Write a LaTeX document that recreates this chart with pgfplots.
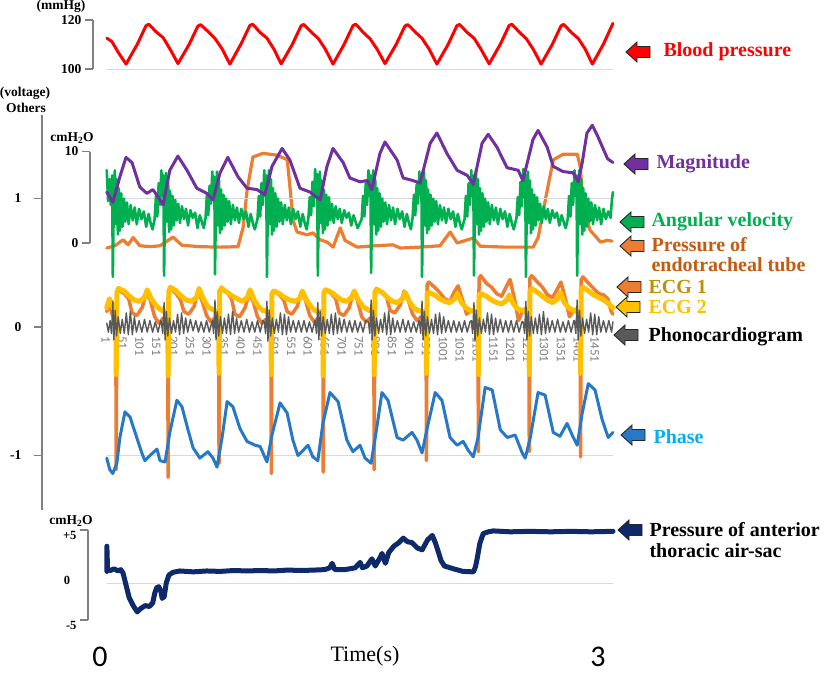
\documentclass[border=0pt]{standalone}
\usepackage{pgfplots}
\pgfplotsset{compat=1.18}
\usepackage{fontspec}
\setmainfont{Liberation Serif}
\newfontfamily\calibri{Carlito}

\definecolor{bpred}{HTML}{FF0000}
\definecolor{magp}{HTML}{7030A0}
\definecolor{angg}{HTML}{00B050}
\definecolor{etor}{HTML}{ED7D31}
\definecolor{etotxt}{HTML}{C55A11}
\definecolor{ecgonetxt}{HTML}{BF9000}
\definecolor{ecgtwo}{HTML}{FFC000}
\definecolor{phono}{HTML}{595959}
\definecolor{phaseb}{HTML}{2878C8}
\definecolor{phasetxt}{HTML}{00B0F0}
\definecolor{sacnavy}{HTML}{0E2A6B}
\definecolor{axgray}{HTML}{808080}
\definecolor{gridc}{HTML}{D9D9D9}
\definecolor{tickgray}{HTML}{7F7F7F}

\newcommand{\lab}{\fontsize{20}{22}\selectfont\bfseries}
\newcommand{\tlab}{\fontsize{13.5}{15}\selectfont\bfseries}
% block arrow pointing left: colour, x, y (pt)
\newcommand{\larr}[3]{\draw[draw=black!85, line width=0.9pt, fill=#1, shift={(#2pt,#3pt)}]
  (-12pt,0pt) -- (-1pt,10pt) -- (-1pt,5.5pt) -- (12pt,5.5pt) -- (12pt,-5.5pt)
  -- (-1pt,-5.5pt) -- (-1pt,-10pt) -- cycle;}

\pgfplotsset{
  panel/.style={scale only axis, clip=false, anchor=south west,
    axis x line=none, axis y line*=left,
    y axis line style={-, draw=axgray, line width=1.2pt},
    ytick style={draw=axgray, line width=1.2pt},
    tick align=outside, major tick length=8pt,
    yticklabel style={font=\tlab, text=black},
    every axis plot/.append style={no markers, line join=round, line cap=round}},
}

\begin{document}
\begin{tikzpicture}
\useasboundingbox (0pt,0pt) rectangle (827pt,-673pt);

% blood pressure
\begin{axis}[panel, at={(93pt,-69pt)}, width=521.6pt, height=49pt,
  xmin=-37, xmax=1510, ymin=100, ymax=120,
  ytick={100,120}, yticklabels={100,120}]
\addplot[gridc, line width=1pt] coordinates {(4,100)(1505,100)};
\addplot[bpred, line width=3pt] coordinates {
(4,112.6)(19,111.2)(37,107)(61,102)(94,110)(120,117.6)(128,118.3)(136,117.2)(150,115.2)(171,112.8)(192,108)
(215,102.2)(248,110)(274,117.5)(282,118.1)(290,117.1)(304,115.3)(325,112.4)(346,108.2)
(369,102)(402,110.2)(428,117.7)(436,118.3)(444,117.2)(458,115)(479,112.6)(500,108)
(521,102.1)(554,110)(580,117.6)(588,118.2)(596,117.1)(610,115.1)(631,112.5)(652,108.1)
(675,102)(708,110.1)(734,117.7)(742,118.3)(750,117.2)(764,115)(785,112.3)(806,108)
(829,102.2)(862,110)(888,117.5)(896,118.1)(904,117.2)(918,115.2)(939,112.5)(960,108.1)
(983,102)(1016,110)(1042,117.6)(1050,118.2)(1058,117.1)(1072,115)(1093,112.6)(1114,108)
(1138,102.1)(1171,110.1)(1197,117.7)(1205,118.3)(1213,117.2)(1227,115.1)(1248,112.4)(1269,108)
(1292,102)(1325,110)(1351,117.6)(1359,118.2)(1367,117.1)(1381,115)(1402,112.5)(1423,108.1)
(1444,102)(1477,110.2)(1505,118.6)};
\end{axis}

% pressure of endotracheal tube (cmH2O)
\begin{axis}[panel, at={(90pt,-243pt)}, width=524.7pt, height=91.5pt,
  xmin=-46, xmax=1510, ymin=0, ymax=10,
  ytick={0,10}, yticklabels={0,10}]
\addplot[etor, line width=3.2pt] coordinates {
(4,-0.55)(28,-0.3)(52,0.35)(67,-0.2)(82,0.6)(102,-0.3)(132,-0.4)(162,-0.3)(200,0.65)
(227,-0.25)(280,-0.4)(340,-0.45)(393,-0.4)(408,1.7)(420,5.8)(437,9.4)(467,9.8)(509,9.6)
(539,9.1)(547,6.1)(556,2.5)(568,1.2)(598,0.9)(615,1.1)(637,0.35)(657,0.1)(675,-0.45)
(696,1.65)(710,0.3)(746,-0.45)(799,-0.3)(853,-0.2)(874,-0.55)(933,-0.45)(992,-0.3)
(1022,1.2)(1043,0)(1091,0.55)(1111,-0.35)(1185,-0.45)(1268,-0.45)(1283,0.6)(1310,5.8)
(1328,9.1)(1357,9.7)(1399,9.7)(1408,8.3)(1417,3.9)(1437,1.4)(1468,0.1)(1489,0.3)(1502,0.2)};
\end{axis}

% others (voltage)
\begin{axis}[panel, at={(42pt,-510pt)}, width=572.6pt, height=395pt,
  xmin=-188, xmax=1510, ymin=-1.424, ymax=1.65,
  ytick={-1,0,1}, yticklabels={-1,0,1}, yticklabel style={xshift=-9pt}]
\addplot[gridc, line width=1pt] coordinates {(4,1)(1505,1)};
\addplot[gridc, line width=1pt] coordinates {(4,0)(1505,0)};
\addplot[gridc, line width=1pt] coordinates {(4,-1)(1505,-1)};
% sample index labels along the zero line
\pgfplotsinvokeforeach{1,51,101,151,201,251,301,351,401,451,501,551,601,651,701,751,801,851,901,951,1001,1051,1101,1151,1201,1251,1301,1351,1401,1451}{
  \node[rotate=-90, anchor=west, inner sep=0pt, text=tickgray,
    font=\calibri\fontsize{13}{13}\selectfont] at (axis cs:#1,-0.07) {#1};
}
% ECG 1
\addplot[etor, line width=3.5pt] coordinates {
(4,0.12)(12,0.18)(20,0.10)(28,0.06)
(31,0.06)(32,-1.11)(34,0.26)(39,0.29)(56,0.26)(69,0.22)(79,0.11)(93,0.09)(109,0.15)(121,0.27)(133,0.21)(146,0.08)(159,0.03)(171,0.07)(181,0.05)
(185,0.06)(186,-1.17)(188,0.27)(193,0.30)(210,0.26)(223,0.21)(233,0.12)(247,0.10)(263,0.16)(275,0.28)(287,0.20)(300,0.09)(313,0.04)(325,0.07)(332,0.05)
(336,0.06)(337,-1.06)(339,0.28)(344,0.31)(361,0.27)(374,0.22)(384,0.10)(398,0.08)(414,0.15)(426,0.26)(438,0.20)(451,0.08)(464,0.03)(476,0.06)(487,0.05)
(491,0.06)(492,-1.14)(494,0.26)(499,0.28)(516,0.25)(529,0.21)(539,0.12)(553,0.10)(569,0.16)(581,0.27)(593,0.21)(606,0.09)(619,0.04)(631,0.07)(641,0.05)
(645,0.06)(646,-1.13)(648,0.27)(653,0.29)(670,0.26)(683,0.22)(693,0.11)(707,0.09)(723,0.15)(735,0.27)(747,0.21)(760,0.08)(773,0.04)(785,0.07)(792,0.06)
(796,0.07)(797,-1.11)(799,0.28)(804,0.30)(821,0.27)(834,0.23)(844,0.13)(858,0.11)(874,0.17)(886,0.28)(898,0.21)(911,0.10)(924,0.05)(936,0.08)(947,0.08)
(951,0.10)(952,-1.04)(954,0.33)(959,0.35)(976,0.31)(991,0.27)(1006,0.22)(1021,0.20)(1036,0.28)(1046,0.32)(1059,0.21)(1071,0.10)(1086,0.13)(1101,0.12)
(1105,0.12)(1106,-0.97)(1108,0.38)(1113,0.40)(1130,0.34)(1145,0.31)(1160,0.26)(1175,0.24)(1190,0.32)(1200,0.37)(1213,0.22)(1225,0.05)(1240,0.14)(1252,0.13)
(1256,0.13)(1257,-0.97)(1259,0.38)(1264,0.40)(1281,0.35)(1296,0.31)(1311,0.25)(1326,0.23)(1341,0.30)(1351,0.35)(1364,0.22)(1376,0.08)(1391,0.14)(1404,0.12)
(1408,0.12)(1409,-1.01)(1411,0.37)(1416,0.39)(1433,0.34)(1448,0.30)(1463,0.26)(1478,0.25)(1490,0.22)(1500,0.12)(1505,0.10)};
% ECG 2
\addplot[ecgtwo, line width=5pt] coordinates {
(4,0.15)(12,0.22)(20,0.17)(28,0.12)
(31,0.12)(32,-0.37)(34,0.27)(39,0.30)(56,0.28)(71,0.24)(86,0.21)(101,0.20)(116,0.23)(124,0.29)(136,0.22)(149,0.17)(161,0.14)(176,0.12)
(185,0.12)(186,-0.38)(188,0.28)(193,0.31)(210,0.28)(225,0.24)(240,0.21)(255,0.20)(270,0.23)(278,0.30)(290,0.22)(303,0.16)(315,0.14)(330,0.12)
(336,0.12)(337,-0.36)(339,0.28)(344,0.30)(361,0.27)(376,0.24)(391,0.22)(406,0.20)(421,0.23)(429,0.29)(441,0.21)(454,0.16)(466,0.13)(481,0.12)
(491,0.12)(492,-0.37)(494,0.26)(499,0.28)(516,0.26)(531,0.23)(546,0.21)(561,0.20)(576,0.22)(584,0.28)(596,0.21)(609,0.16)(621,0.13)(636,0.12)
(645,0.12)(646,-0.38)(648,0.27)(653,0.29)(670,0.27)(685,0.24)(700,0.21)(715,0.20)(730,0.23)(738,0.28)(750,0.21)(763,0.16)(775,0.14)(790,0.12)
(796,0.12)(797,-0.37)(799,0.27)(804,0.29)(821,0.27)(836,0.23)(851,0.20)(866,0.19)(881,0.22)(889,0.27)(901,0.20)(914,0.15)(926,0.13)(941,0.12)
(951,0.12)(952,-0.36)(954,0.26)(959,0.27)(976,0.25)(991,0.22)(1006,0.20)(1021,0.19)(1036,0.22)(1044,0.26)(1056,0.19)(1069,0.15)(1081,0.13)(1096,0.12)
(1105,0.12)(1106,-0.37)(1108,0.25)(1113,0.26)(1130,0.24)(1145,0.21)(1160,0.19)(1175,0.18)(1190,0.21)(1198,0.25)(1210,0.18)(1223,0.14)(1235,0.13)(1250,0.12)
(1256,0.12)(1257,-0.37)(1259,0.28)(1264,0.30)(1281,0.27)(1296,0.24)(1311,0.21)(1326,0.19)(1341,0.22)(1349,0.27)(1361,0.19)(1374,0.15)(1386,0.13)(1401,0.12)
(1408,0.12)(1409,-0.36)(1411,0.29)(1416,0.31)(1433,0.28)(1448,0.25)(1463,0.23)(1478,0.21)(1493,0.18)(1505,0.15)};
% phonocardiogram
\addplot[phono, line width=1.4pt] coordinates {
(4,0.03)(9,-0.04)
(14,0.05)(18,-0.05)(22,0.20)(25,-0.10)(29,0.13)(33,-0.07)(38,0.08)(44,-0.05)(50,0.06)(56,-0.05)(62,0.11)(68,-0.06)(74,0.12)(80,-0.06)(86,0.08)(92,-0.04)(100,0.05)(108,-0.04)(116,0.06)(124,-0.04)(132,0.05)(140,-0.04)(148,0.04)(156,-0.04)(164,0.05)
(166,0.04)(170,-0.05)(174,0.19)(177,-0.10)(181,0.12)(185,-0.07)(190,0.07)(196,-0.05)(202,0.05)(208,-0.04)(214,0.10)(220,-0.06)(226,0.11)(232,-0.05)(238,0.07)(244,-0.04)(252,0.06)(260,-0.03)(268,0.05)(276,-0.04)(284,0.04)(292,-0.04)(300,0.05)(308,-0.04)(316,0.04)
(317,0.05)(321,-0.05)(325,0.21)(328,-0.10)(332,0.12)(336,-0.07)(341,0.08)(347,-0.05)(353,0.07)(359,-0.05)(365,0.10)(371,-0.06)(377,0.12)(383,-0.05)(389,0.07)(395,-0.04)(403,0.05)(411,-0.04)(419,0.06)(427,-0.04)(435,0.04)(443,-0.04)(451,0.05)(459,-0.04)(467,0.05)
(471,0.04)(475,-0.05)(479,0.20)(482,-0.11)(486,0.13)(490,-0.07)(495,0.07)(501,-0.05)(507,0.06)(513,-0.04)(519,0.11)(525,-0.06)(531,0.10)(537,-0.06)(543,0.08)(549,-0.04)(557,0.05)(565,-0.04)(573,0.05)(581,-0.04)(589,0.05)(597,-0.04)(605,0.04)(613,-0.04)(621,0.05)
(622,0.05)(626,-0.05)(630,0.19)(633,-0.10)(637,0.12)(641,-0.07)(646,0.08)(652,-0.05)(658,0.06)(664,-0.05)(670,0.10)(676,-0.06)(682,0.11)(688,-0.05)(694,0.07)(700,-0.04)(708,0.06)(716,-0.04)(724,0.05)(732,-0.04)(740,0.05)(748,-0.04)(756,0.04)(764,-0.04)(772,0.05)
(780,0.04)(784,-0.05)(788,0.21)(791,-0.10)(795,0.13)(799,-0.07)(804,0.07)(810,-0.05)(816,0.06)(822,-0.04)(828,0.11)(834,-0.06)(840,0.12)(846,-0.06)(852,0.07)(858,-0.04)(866,0.05)(874,-0.04)(882,0.06)(890,-0.04)(898,0.05)(906,-0.04)(914,0.04)(922,-0.04)(930,0.05)
(931,0.05)(935,-0.05)(939,0.20)(942,-0.10)(946,0.12)(950,-0.07)(955,0.08)(961,-0.05)(967,0.06)(973,-0.05)(979,0.10)(985,-0.06)(991,0.11)(997,-0.05)(1003,0.08)(1009,-0.04)(1017,0.05)(1025,-0.04)(1033,0.05)(1041,-0.04)(1049,0.04)(1057,-0.04)(1065,0.05)(1073,-0.04)(1081,0.04)
(1085,0.05)(1089,-0.05)(1093,0.19)(1096,-0.11)(1100,0.13)(1104,-0.07)(1109,0.07)(1115,-0.05)(1121,0.06)(1127,-0.04)(1133,0.11)(1139,-0.06)(1145,0.10)(1151,-0.06)(1157,0.07)(1163,-0.04)(1171,0.06)(1179,-0.04)(1187,0.05)(1195,-0.04)(1203,0.05)(1211,-0.04)(1219,0.05)(1227,-0.04)(1235,0.04)
(1239,0.04)(1243,-0.05)(1247,0.20)(1250,-0.10)(1254,0.12)(1258,-0.07)(1263,0.08)(1269,-0.05)(1275,0.07)(1281,-0.05)(1287,0.10)(1293,-0.06)(1299,0.12)(1305,-0.05)(1311,0.07)(1317,-0.04)(1325,0.05)(1333,-0.04)(1341,0.06)(1349,-0.04)(1357,0.04)(1365,-0.04)(1373,0.05)(1381,-0.04)(1389,0.05)
(1391,0.05)(1395,-0.05)(1399,0.21)(1402,-0.10)(1406,0.13)(1410,-0.07)(1415,0.07)(1421,-0.05)(1427,0.06)(1433,-0.04)(1439,0.11)(1445,-0.06)(1451,0.10)(1457,-0.06)(1463,0.08)(1469,-0.04)(1477,0.05)(1485,-0.04)(1493,0.05)(1501,-0.04)(1505,0.04)};
% phase
\addplot[phaseb, line width=3pt] coordinates {
(4,-1.02)(13,-1.11)(22,-1.14)(34,-1.06)(43,-0.86)(58,-0.66)(73,-0.70)(93,-0.86)(108,-0.98)(117,-1.04)(132,-1.00)(153,-0.95)(162,-1.04)(177,-1.05)
(191,-0.82)(212,-0.57)(227,-0.62)(245,-0.80)(260,-0.94)(280,-1.02)(304,-0.97)(319,-1.02)(331,-1.09)
(346,-0.86)(361,-0.58)(378,-0.62)(399,-0.79)(420,-0.89)(444,-0.92)(459,-0.93)(479,-1.05)
(494,-0.84)(518,-0.59)(539,-0.67)(556,-0.88)(571,-1.00)(601,-0.92)(615,-1.01)(630,-1.04)
(645,-0.75)(666,-0.51)(690,-0.58)(716,-0.88)(734,-0.97)(755,-0.92)(770,-1.02)(788,-1.06)
(805,-0.78)(820,-0.51)(838,-0.57)(865,-0.86)(883,-0.88)(909,-0.82)(924,-0.88)(939,-0.98)
(954,-0.79)(978,-0.51)(998,-0.57)(1022,-0.86)(1043,-0.92)(1061,-0.89)(1076,-0.96)(1091,-1.01)
(1105,-0.86)(1126,-0.47)(1147,-0.49)(1171,-0.80)(1192,-0.86)(1215,-0.84)(1236,-0.98)(1245,-1.02)
(1260,-0.86)(1283,-0.51)(1304,-0.53)(1328,-0.82)(1348,-0.85)(1369,-0.75)(1384,-0.84)(1399,-0.92)
(1414,-0.67)(1432,-0.44)(1452,-0.49)(1473,-0.72)(1491,-0.86)(1505,-0.82)};
% angular velocity
\addplot[angg, line width=2.6pt] coordinates {
(4,1.22)(8,0.98)(12,1.15)(16,0.95)(20,1.18)
(22,0.39)(25,1.00)(28,1.22)(31,0.80)(34,1.15)(37,0.72)(40,1.08)(43,0.75)(47,1.04)(51,0.78)(55,1.00)(59,0.82)(64,0.97)(69,0.80)(75,0.95)(81,0.83)(87,0.93)(93,0.80)(100,0.92)(107,0.84)(114,0.90)(121,0.78)(128,0.88)(135,0.80)(140,0.76)
(146,0.84)(150,1.02)(154,0.86)(158,1.12)(162,0.95)(166,1.22)(169,1.02)(172,1.18)(174,0.40)(177,1.02)(180,1.20)(183,0.82)(186,1.13)(189,0.74)(192,1.06)(195,0.76)(199,1.02)(203,0.79)(207,0.99)(211,0.83)(216,0.96)(221,0.81)(227,0.94)(233,0.84)(239,0.92)(245,0.79)(252,0.91)(259,0.85)(266,0.89)(273,0.77)(280,0.87)(287,0.81)(292,0.77)
(297,0.85)(301,1.03)(305,0.87)(309,1.10)(313,0.96)(317,1.21)(320,1.03)(323,1.17)(325,0.41)(328,0.99)(331,1.21)(334,0.79)(337,1.14)(340,0.73)(343,1.07)(346,0.76)(350,1.03)(354,0.79)(358,1.00)(362,0.82)(367,0.98)(372,0.80)(378,0.95)(384,0.83)(390,0.93)(396,0.81)(403,0.92)(410,0.84)(417,0.90)(424,0.78)(431,0.88)(438,0.80)(443,0.76)
(451,0.84)(455,1.02)(459,0.86)(463,1.12)(467,0.95)(471,1.22)(474,1.02)(477,1.18)(479,0.39)(482,1.00)(485,1.22)(488,0.80)(491,1.15)(494,0.72)(497,1.08)(500,0.75)(504,1.04)(508,0.78)(512,1.00)(516,0.82)(521,0.97)(526,0.80)(532,0.95)(538,0.83)(544,0.93)(550,0.80)(557,0.92)(564,0.84)(571,0.90)(578,0.78)(585,0.88)(592,0.80)(597,0.76)
(602,0.85)(606,1.01)(610,0.87)(614,1.13)(618,0.94)(622,1.23)(625,1.01)(628,1.19)(630,0.40)(633,1.01)(636,1.21)(639,0.81)(642,1.14)(645,0.73)(648,1.07)(651,0.76)(655,1.03)(659,0.79)(663,1.01)(667,0.83)(672,0.96)(677,0.81)(683,0.94)(689,0.84)(695,0.92)(701,0.81)(708,0.91)(715,0.85)(722,0.89)(729,0.79)(736,0.87)(743,0.81)(748,0.77)
(760,0.84)(764,1.02)(768,0.86)(772,1.12)(776,0.95)(780,1.22)(783,1.02)(786,1.18)(788,0.42)(791,1.00)(794,1.22)(797,0.80)(800,1.15)(803,0.72)(806,1.08)(809,0.75)(813,1.04)(817,0.78)(821,1.00)(825,0.82)(830,0.97)(835,0.80)(841,0.95)(847,0.83)(853,0.93)(859,0.80)(866,0.92)(873,0.84)(880,0.90)(887,0.78)(894,0.88)(901,0.80)(906,0.76)
(911,0.85)(915,1.03)(919,0.87)(923,1.11)(927,0.96)(931,1.21)(934,1.03)(937,1.17)(939,0.39)(942,0.99)(945,1.21)(948,0.79)(951,1.14)(954,0.73)(957,1.07)(960,0.76)(964,1.03)(968,0.79)(972,1.00)(976,0.82)(981,0.98)(986,0.80)(992,0.95)(998,0.83)(1004,0.93)(1010,0.81)(1017,0.92)(1024,0.84)(1031,0.90)(1038,0.78)(1045,0.88)(1052,0.80)(1057,0.76)
(1065,0.84)(1069,1.02)(1073,0.86)(1077,1.12)(1081,0.95)(1085,1.22)(1088,1.02)(1091,1.18)(1093,0.40)(1096,1.00)(1099,1.22)(1102,0.80)(1105,1.15)(1108,0.72)(1111,1.08)(1114,0.75)(1118,1.04)(1122,0.78)(1126,1.00)(1130,0.82)(1135,0.97)(1140,0.80)(1146,0.95)(1152,0.83)(1158,0.93)(1164,0.80)(1171,0.92)(1178,0.84)(1185,0.90)(1192,0.78)(1199,0.88)(1206,0.80)(1211,0.76)
(1219,0.85)(1223,1.01)(1227,0.87)(1231,1.13)(1235,0.94)(1239,1.23)(1242,1.01)(1245,1.19)(1247,0.39)(1250,1.01)(1253,1.21)(1256,0.81)(1259,1.14)(1262,0.73)(1265,1.07)(1268,0.76)(1272,1.03)(1276,0.79)(1280,1.01)(1284,0.83)(1289,0.96)(1294,0.81)(1300,0.94)(1306,0.84)(1312,0.92)(1318,0.81)(1325,0.91)(1332,0.85)(1339,0.89)(1346,0.79)(1353,0.87)(1360,0.81)(1365,0.77)
(1371,0.84)(1375,1.02)(1379,0.86)(1383,1.12)(1387,0.95)(1391,1.22)(1394,1.02)(1397,1.18)(1399,0.40)(1402,1.00)(1405,1.22)(1408,0.80)(1411,1.15)(1414,0.72)(1417,1.08)(1420,0.75)(1424,1.04)(1428,0.78)(1432,1.00)(1436,0.82)(1441,0.97)(1446,0.80)(1452,0.95)(1458,0.83)(1464,0.93)(1470,0.80)(1477,0.92)(1484,0.84)(1491,0.90)(1498,0.85)(1502,0.99)(1505,1.05)};
% magnitude
\addplot[magp, line width=3pt] coordinates {
(4,1.05)(22,0.97)(43,1.17)(61,1.32)(79,1.28)(102,1.09)(123,1.04)(141,1.07)(162,0.99)(171,0.95)
(191,1.22)(215,1.33)(242,1.22)(271,1.08)(301,1.04)(319,0.99)(340,1.20)(363,1.32)(393,1.17)
(420,1.08)(449,1.07)(473,1.03)(494,1.25)(524,1.39)(547,1.30)(577,1.08)(607,1.05)(637,0.99)
(657,1.25)(675,1.39)(705,1.28)(725,1.16)(755,1.13)(776,1.14)(790,1.07)(814,1.35)(829,1.44)
(865,1.30)(883,1.16)(912,1.14)(933,1.12)(963,1.43)(983,1.51)(1013,1.35)(1043,1.22)(1073,1.18)
(1091,1.11)(1117,1.43)(1135,1.50)(1161,1.40)(1191,1.24)(1224,1.22)(1238,1.14)(1268,1.46)
(1283,1.53)(1310,1.40)(1328,1.25)(1357,1.21)(1387,1.20)(1402,1.13)(1414,1.28)(1428,1.51)
(1444,1.57)(1459,1.49)(1489,1.31)(1505,1.28)};
\end{axis}

% pressure of anterior thoracic air-sac
\begin{axis}[panel, at={(88pt,-620pt)}, width=526.7pt, height=90pt,
  xmin=-52, xmax=1510, ymin=-5, ymax=5,
  ytick={-5,5}, yticklabels={-5,+5},
  yticklabel style={yshift=-5pt, font=\fontsize{12.5}{14}\selectfont\bfseries}]
\addplot[gridc, line width=1pt] coordinates {(4,-0.9)(1505,-0.9)};
\addplot[sacnavy, line width=5pt] coordinates {
(4,0.4)(4,3.2)(6,0.6)(15,0.5)(25,0.7)(37,0.45)(45,0.6)(52,0.2)(60,-1.0)(70,-2.5)(82,-3.4)
(94,-4.1)(105,-3.7)(118,-3.4)(130,-3.5)(140,-3.1)(146,-2.0)(152,-1.4)(158,-1.3)(164,-1.8)
(168,-2.6)(174,-2.4)(180,-0.9)(188,0.0)(200,0.3)(220,0.45)(260,0.35)(300,0.45)(340,0.4)
(380,0.5)(420,0.45)(460,0.5)(500,0.45)(540,0.55)(580,0.5)(620,0.55)(650,0.6)(665,0.8)
(672,1.3)(680,0.6)(710,0.6)(740,0.8)(755,1.4)(762,0.8)(775,1.0)(790,1.8)(800,1.0)(815,2.0)
(820,2.4)(830,1.3)(840,2.5)(855,3.2)(870,3.6)(883,4.1)(895,3.7)(909,3.6)(925,3.0)(939,2.8)
(955,3.9)(969,4.4)(978,3.6)(985,2.8)(995,1.6)(1005,1.0)(1031,0.7)(1060,0.4)(1091,0.35)
(1097,0.9)(1102,1.8)(1110,3.5)(1120,4.6)(1135,4.8)(1150,4.9)(1200,4.8)(1260,4.85)
(1320,4.8)(1380,4.85)(1440,4.8)(1505,4.85)};
\end{axis}

% unit labels
\node[font=\tlab] at (61pt,-6pt) {(mmHg)};
\node[font=\tlab] at (25pt,-93pt) {(voltage)};
\node[font=\tlab] at (26pt,-108pt) {Others};
\node[font=\tlab] at (72pt,-138pt) {cmH\textsubscript{2}O};
\node[font=\tlab] at (71pt,-521pt) {cmH\textsubscript{2}O};
\node[font=\fontsize{12.5}{14}\selectfont\bfseries] at (67pt,-580pt) {0};

% time axis
\node[font=\calibri\fontsize{30}{30}\selectfont] at (100pt,-657pt) {0};
\node[font=\calibri\fontsize{30}{30}\selectfont] at (598pt,-657pt) {3};
\node[font=\fontsize{22}{23}\selectfont] at (365pt,-656pt) {Time(s)};

% legend arrows and names
\larr{bpred}{638}{-52}
\node[anchor=west, text=bpred, font=\lab] at (660pt,-52pt) {Blood pressure};
\larr{magp}{636}{-164}
\node[anchor=west, text=magp, font=\lab] at (653pt,-164pt) {Magnitude};
\larr{angg}{632}{-222}
\node[anchor=west, text=angg, font=\lab] at (648pt,-222pt) {Angular velocity};
\larr{etor}{632}{-246}
\node[anchor=west, text=etotxt, font=\lab] at (648pt,-245pt) {Pressure of};
\node[anchor=west, text=etotxt, font=\lab] at (648pt,-265pt) {endotracheal tube};
\larr{etor}{629}{-287}
\node[anchor=west, text=ecgonetxt, font=\lab] at (645pt,-287pt) {ECG 1};
\larr{ecgtwo}{628}{-307}
\node[anchor=west, text=ecgtwo, font=\lab] at (645pt,-307pt) {ECG 2};
\larr{phono}{626}{-335}
\node[anchor=west, text=black, font=\lab] at (645pt,-337pt) {Phonocardiogram};
\larr{phaseb}{633}{-435}
\node[anchor=west, text=phasetxt, font=\lab] at (650pt,-437pt) {Phase};
\larr{sacnavy}{630}{-530}
\node[anchor=west, text=black, font=\lab] at (646pt,-530pt) {Pressure of anterior};
\node[anchor=west, text=black, font=\lab] at (646pt,-551pt) {thoracic air-sac};
\end{tikzpicture}
\end{document}
